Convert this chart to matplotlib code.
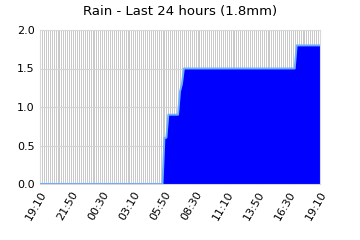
import matplotlib
matplotlib.use("Agg")
import matplotlib.pyplot as plt
import matplotlib.transforms as mtransforms
import numpy as np

# 10 minute samples, 19:10 -> 19:10 next day (145 points)
start_min = 19 * 60 + 10
step_min = 10
n_points = 145

# accumulated rain (mm) at each sample
rain = [0.0] * 64 + [0.6, 0.6, 0.9, 0.9, 0.9, 0.9, 0.9, 0.9, 1.2, 1.3] \
    + [1.5] * 58 + [1.8] * 13

tick_every = 16
times = ["%02d:%02d" % (((start_min + i * step_min) // 60) % 24,
                        (start_min + i * step_min) % 60) for i in range(n_points)]

x = np.arange(n_points)

fig = plt.figure(figsize=(3.6, 2.4), dpi=100)
ax = fig.add_axes([40 / 360, 56 / 240, 280 / 360, 154 / 240])

ax.fill_between(x, rain, 0, color="#0000ff", zorder=2)
ax.plot(x, rain, color="#6aaeff", lw=1.4, zorder=3)

ax.set_xlim(0, n_points - 1)
ax.set_ylim(0, 2.0)
ax.set_yticks([0.0, 0.5, 1.0, 1.5, 2.0])
ax.set_yticklabels(["0.0", "0.5", "1.0", "1.5", "2.0"], fontsize=8)

ax.set_xticks(x[::tick_every])
ax.set_xticklabels(times[::tick_every], fontsize=8, rotation=60,
                   ha="right", rotation_mode="anchor")
ax.set_xticks(x, minor=True)

# push the rotated labels a bit left/down like the original
shift = mtransforms.ScaledTranslation(-5 / 100, -5 / 100, fig.dpi_scale_trans)
for lab in ax.get_xticklabels():
    lab.set_transform(lab.get_transform() + shift)

ax.tick_params(which="both", length=0, pad=4)
ax.grid(True, which="both", axis="x", color="#c8c8c8", lw=0.7, zorder=0)
ax.grid(True, which="major", axis="y", color="#d4d4d4", lw=0.8, zorder=0)
ax.set_axisbelow(True)

for s in ax.spines.values():
    s.set_color("#d8d8d8")
    s.set_linewidth(0.8)

ax.set_title("Rain - Last 24 hours (1.8mm)", fontsize=9.5, pad=11)

fig.savefig("out.png", dpi=100)
